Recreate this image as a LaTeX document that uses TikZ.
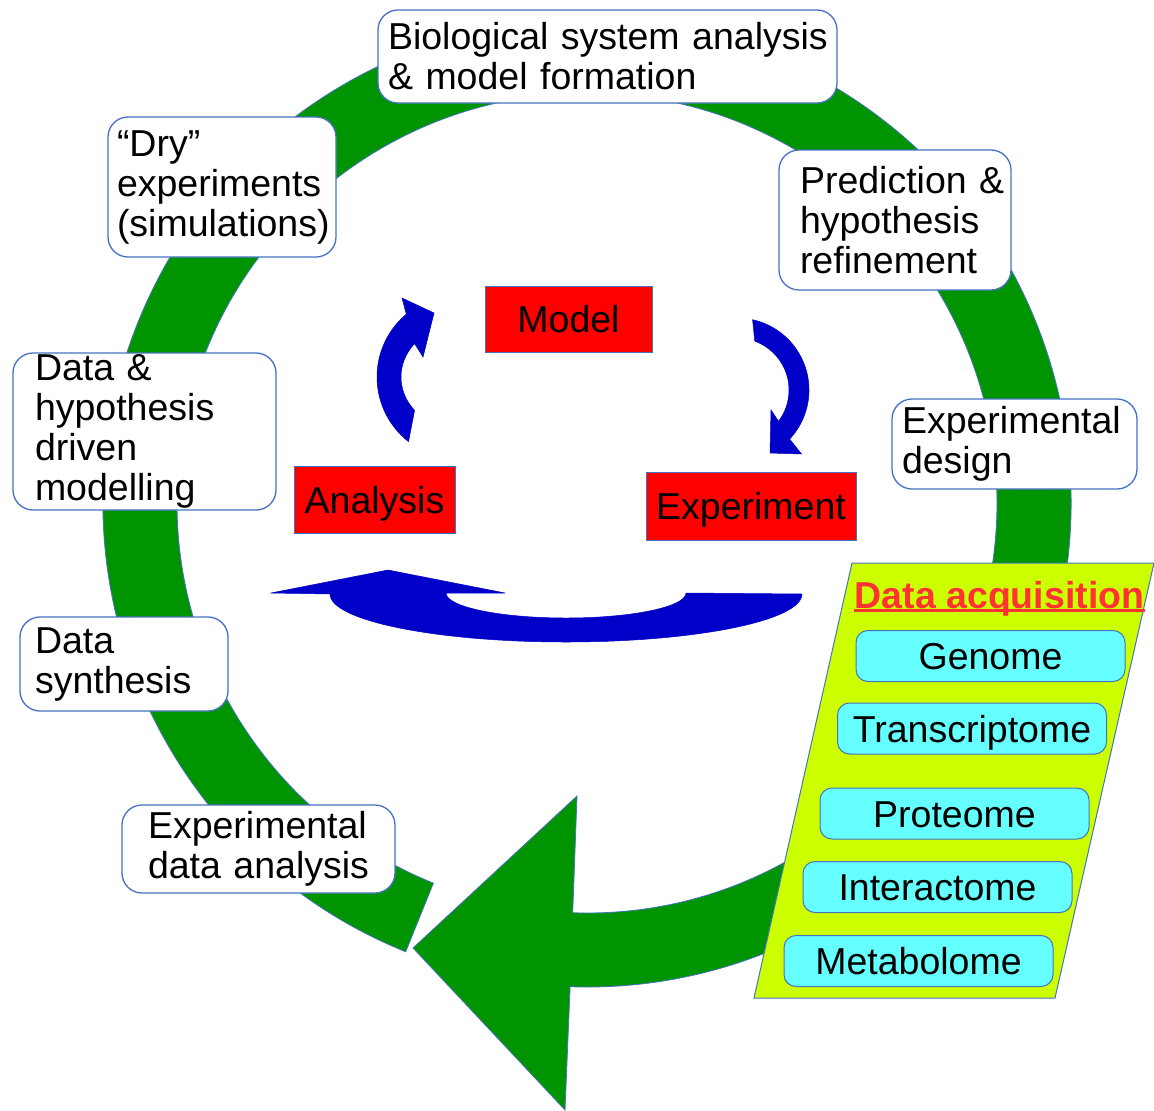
\documentclass[tikz,border=0pt]{standalone}
\usepackage{fontspec}
\setmainfont{Liberation Sans}
\definecolor{ringgreen}{RGB}{0,148,0}
\definecolor{arrowblue}{RGB}{0,0,200}
\definecolor{edgeblue}{RGB}{70,114,196}
\definecolor{boxred}{RGB}{255,0,0}
\definecolor{boxcyan}{RGB}{102,255,255}
\definecolor{panel}{RGB}{204,255,0}
\definecolor{acqred}{RGB}{255,51,51}
\hyphenpenalty=10000
\exhyphenpenalty=10000
\begin{document}
\begin{tikzpicture}[x=1pt,y=-1pt,
  big/.style={font=\fontsize{37.5}{40}\selectfont},
  wbox/.style={draw=edgeblue, line width=1.3pt, fill=white, rounded corners=20pt, align=left, inner ysep=0pt, big},
  rbox/.style={draw=edgeblue, line width=1pt, fill=boxred, inner sep=0pt, text height=27pt, text depth=0pt, big},
  cbox/.style={draw=edgeblue, line width=1pt, fill=boxcyan, rounded corners=12pt, inner sep=0pt, minimum width=269pt, minimum height=51pt, text height=27pt, text depth=0pt, big},
  bluearrow/.style={fill=arrowblue, draw=arrowblue, line width=0.5pt},
  ringstyle/.style={fill=ringgreen, draw=edgeblue, line width=0.8pt},
  panelstyle/.style={fill=panel, draw=edgeblue, line width=1pt},
]
\useasboundingbox (0,0) rectangle (1154,1111);
\fill[white] (0,0) rectangle (1154,1111);

% big green circular arrow
\coordinate (ringc) at (587,503);
\filldraw[ringstyle]
  (413,948) -- (577,796) -- ([shift={(587,503)}]92:410)
  arc[start angle=92, end angle=-248, radius=410]
  -- ([shift={(587,503)}]-248:484)
  arc[start angle=-248, end angle=92, radius=484]
  -- (565,1110) -- cycle;

% white boxes
\node[wbox, minimum width=459pt, minimum height=93pt, text width=439pt, inner xsep=10pt] (bio) at (607.5,56.5)
  {\mbox{Biological system analysis}\\\mbox{\& model formation}};
\node[wbox, minimum width=228pt, minimum height=140pt, text width=210pt, inner xsep=9pt] (dry) at (222,187)
  {\mbox{“Dry”}\\\mbox{experiments}\\\mbox{(simulations)}};
\node[wbox, minimum width=232pt, minimum height=140pt, text width=190pt, inner xsep=21pt] (pred) at (895,220)
  {\mbox{Prediction \&}\\\mbox{hypothesis}\\\mbox{refinement}};
\node[wbox, minimum width=263pt, minimum height=157pt, text width=219pt, inner xsep=22pt] (dhm) at (144.5,431.5)
  {\mbox{Data \&}\\\mbox{hypothesis}\\\mbox{driven}\\\mbox{modelling}};
\node[wbox, minimum width=245pt, minimum height=90pt, text width=225pt, inner xsep=10pt] (expdes) at (1014.5,444)
  {\mbox{Experimental}\\\mbox{design}};
\node[wbox, minimum width=208pt, minimum height=94pt, text width=178pt, inner xsep=15pt] (dsyn) at (124,664)
  {\mbox{Data}\\\mbox{synthesis}};
\node[wbox, minimum width=273pt, minimum height=88pt, text width=221pt, inner xsep=26pt] (eda) at (258.5,849)
  {\mbox{Experimental}\\\mbox{data analysis}};

% red boxes
\node[rbox, minimum width=167pt, minimum height=66pt] (model) at (568.5,319) {Model};
\node[rbox, minimum width=161pt, minimum height=67pt] (analysis) at (374.5,499.5) {Analysis};
\node[rbox, minimum width=210pt, minimum height=68pt] (experiment) at (751,506) {Experiment};

% blue arrows
\filldraw[bluearrow] (402,298) -- (434,313) -- (423,357)
  -- ([shift={(459,377)}]220:58 and 52)
  arc[start angle=220, end angle=140, x radius=58, y radius=52]
  -- ([shift={(459,377)}]128:82)
  arc[start angle=128, end angle=230, radius=82] -- cycle;
\filldraw[bluearrow] ([shift={(737,390)}]-77.5:72)
  arc[start angle=-77.5, end angle=43, radius=72]
  -- (801.5,454) -- (770,453) -- (771,410)
  -- ([shift={(737,390)}]37:52)
  arc[start angle=37, end angle=-70, radius=52] -- cycle;
\filldraw[bluearrow] (271,593) -- (388,570) -- (505,593) -- (446,593)
  arc[start angle=180, end angle=0, x radius=120, y radius=25]
  -- (802,594)
  arc[start angle=0, end angle=180, x radius=236, y radius=48] -- cycle;

% data acquisition panel
\filldraw[panelstyle] (852,563) -- (1154,563) -- (1055,998) -- (754,998) -- cycle;
\node[big, font=\fontsize{37.5}{40}\selectfont\bfseries, text=acqred, anchor=base, inner sep=0pt] (acq) at (999.5,608) {Data acquisition};
\draw[acqred, line width=2.5pt] ([yshift=-2.5pt]acq.base west) -- ([yshift=-2.5pt]acq.base east);

\node[cbox] (genome) at (990.5,656) {Genome};
\node[cbox] (transcriptome) at (972,728.5) {Transcriptome};
\node[cbox] (proteome) at (954.5,813.5) {Proteome};
\node[cbox] (interactome) at (937.5,887) {Interactome};
\node[cbox] (metabolome) at (918.5,961) {Metabolome};
\end{tikzpicture}
\end{document}
